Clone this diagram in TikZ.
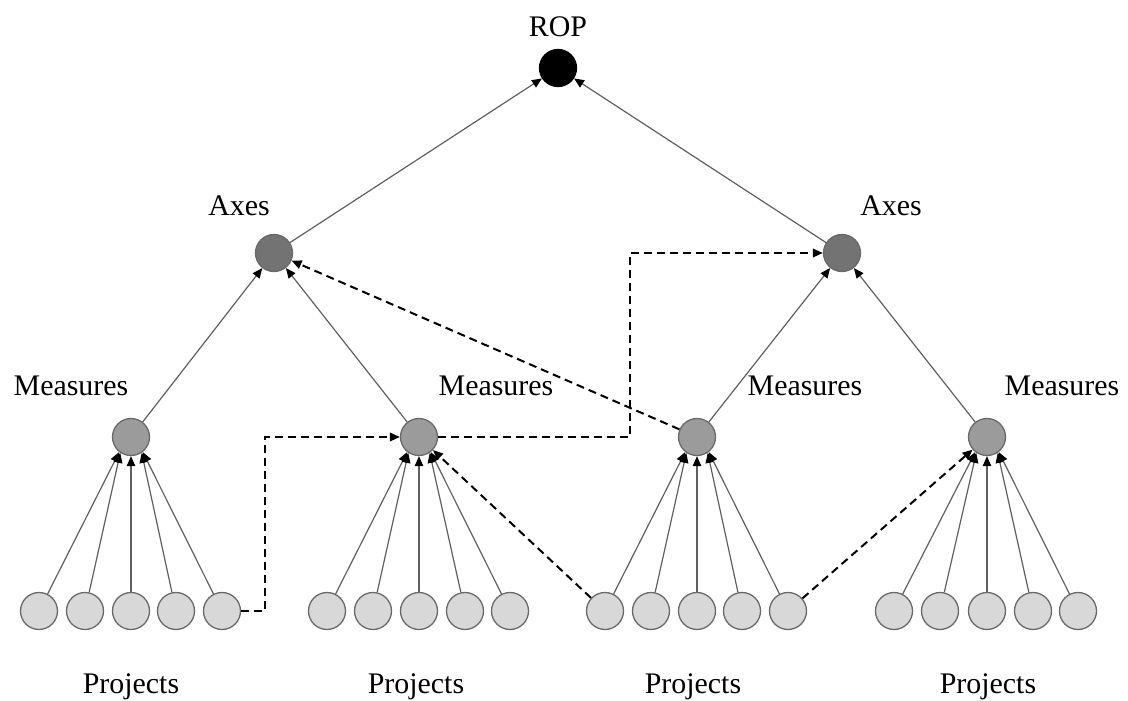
\documentclass[tikz,border=0pt]{standalone}
\usepackage{fontspec}
\setmainfont{Liberation Serif}
\usetikzlibrary{arrows.meta}
\definecolor{axfill}{RGB}{115,115,115}
\definecolor{msfill}{RGB}{155,155,155}
\definecolor{prfill}{RGB}{216,216,216}
\definecolor{edgegray}{RGB}{105,105,105}
\definecolor{linegray}{RGB}{95,95,95}
\begin{document}
\begin{tikzpicture}[x=1bp,y=-1bp,
  nd/.style={circle, draw=edgegray, line width=1.3bp, minimum size=37bp, inner sep=0pt},
  ropn/.style={nd, fill=black, draw=black},
  axn/.style={nd, fill=axfill},
  msn/.style={nd, fill=msfill},
  prn/.style={nd, fill=prfill},
  lbl/.style={font=\fontsize{30}{36}\selectfont, inner sep=0pt, anchor=base},
  sol/.style={draw=linegray, line width=1.2bp, -{Triangle[length=10bp,width=8.5bp,color=black]}},
  dsh/.style={draw=black, line width=2bp, dash pattern=on 8bp off 5bp, -{Triangle[length=10bp,width=8.5bp,color=black]}}]
\useasboundingbox (0,0) rectangle (1128,701);
% nodes
\node[ropn] (rop) at (558,68) {};
\node[axn] (axL) at (274,253) {};
\node[axn] (axR) at (842,253) {};
\node[msn] (m1) at (131,437) {};
\node[msn] (m2) at (419,437) {};
\node[msn] (m3) at (697,437) {};
\node[msn] (m4) at (987,437) {};
\foreach \g/\xa/\xb/\xc/\xd/\xe in {1/39/85/131/176/222, 2/327/373/419/465/510, 3/605/651/697/742/788, 4/894/940/987/1033/1078}{
  \node[prn] (p\g-1) at (\xa,611) {};
  \node[prn] (p\g-2) at (\xb,611) {};
  \node[prn] (p\g-3) at (\xc,611) {};
  \node[prn] (p\g-4) at (\xd,611) {};
  \node[prn] (p\g-5) at (\xe,611) {};
}
% labels
\node[lbl] (tR) at (558,37) {ROP};
\node[lbl] (tA1) at (239,216) {Axes};
\node[lbl] (tA2) at (891,216) {Axes};
\node[lbl] (tM1) at (71,395) {Measures};
\node[lbl] (tM2) at (496,395) {Measures};
\node[lbl] (tM3) at (805,395) {Measures};
\node[lbl] (tM4) at (1062,395) {Measures};
\node[lbl] (tP1) at (131,693) {Projects};
\node[lbl] (tP2) at (416,693) {Projects};
\node[lbl] (tP3) at (693,693) {Projects};
\node[lbl] (tP4) at (988,693) {Projects};
% solid connectors
\draw[sol] (axL) -- (rop);
\draw[sol] (axR) -- (rop);
\draw[sol] (m1) -- (axL);
\draw[sol] (m2) -- (axL);
\draw[sol] (m3) -- (axR);
\draw[sol] (m4) -- (axR);
\foreach \g/\m in {1/m1,2/m2,3/m3,4/m4}{
  \draw[sol] (p\g-1) -- (\m.232);
  \draw[sol] (p\g-2) -- (\m.236);
  \draw[sol] (p\g-3) -- (\m.south);
  \draw[sol] (p\g-4) -- (\m.304);
  \draw[sol] (p\g-5) -- (\m.308);
}
% dashed connectors
\coordinate (c1) at (265,611);
\coordinate (c2) at (265,437);
\draw[dsh] (p1-5.east) -- (c1) -- (c2) -- (m2.west);
\coordinate (c3) at (630,437);
\coordinate (c4) at (630,253);
\draw[dsh] (m2.east) -- (c3) -- (c4) -- (axR.west);
\draw[dsh] (m3) -- (axL);
\draw[dsh] (p3-1) -- (m2);
\draw[dsh] (p3-5) -- (m4);
\end{tikzpicture}
\end{document}
